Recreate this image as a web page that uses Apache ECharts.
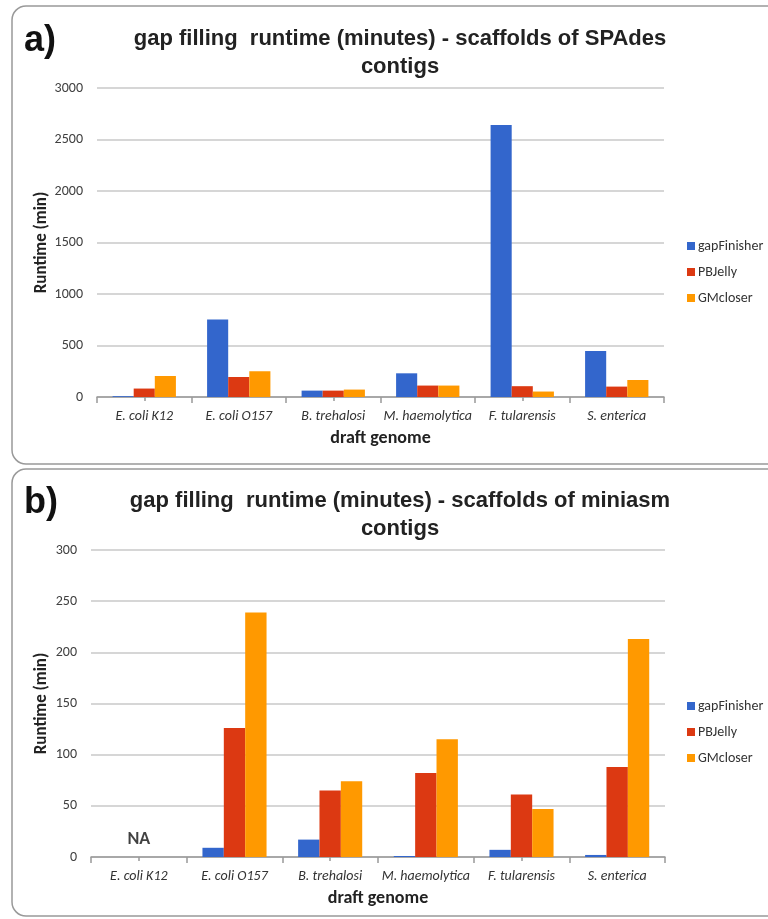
<!DOCTYPE html>
<html>
<head>
<meta charset="utf-8">
<script src="https://cdn.jsdelivr.net/npm/echarts@6/dist/echarts.min.js"></script>
<style>
  html, body { margin: 0; padding: 0; background: #fff; }
  #chart { width: 768px; height: 919px; }
</style>
</head>
<body>
<div id="chart"></div>
<script>
// categories (draft genomes)
const genomes = ['E. coli K12', 'E. coli O157', 'B. trehalosi', 'M. haemolytica', 'F. tularensis', 'S. enterica'];
const tools = ['gapFinisher', 'PBJelly', 'GMcloser'];
const colors = ['#3366CC', '#DC3912', '#FF9900'];

// a) SPAdes contigs, runtime in minutes
const spadesGapFinisher = [8, 752, 62, 230, 2640, 447];
const spadesPBJelly = [82, 194, 62, 111, 105, 101];
const spadesGMcloser = [204, 250, 72, 111, 53, 165];

// b) miniasm contigs, runtime in minutes (K12 not available)
const miniasmGapFinisher = [null, 9, 17, 1, 7, 2];
const miniasmPBJelly = [null, 126, 65, 82, 61, 88];
const miniasmGMcloser = [null, 239, 74, 115, 47, 213];
const naGenomes = ['E. coli K12'];

const yTicksA = { min: 0, max: 3000, interval: 500 };
const yTicksB = { min: 0, max: 300, interval: 50 };

const bodyFont = "Carlito, 'Open Sans', sans-serif";
const titleFont = "'Liberation Sans Narrow', 'Arial Narrow', 'Liberation Sans', sans-serif";

const chart = echarts.init(document.getElementById('chart'));

function catAxis(gridIndex) {
  return {
    type: 'category',
    gridIndex: gridIndex,
    data: genomes,
    axisLine: { lineStyle: { color: '#999', width: 1.5 } },
    axisTick: { show: true, length: 6, lineStyle: { color: '#999', width: 1.5 } },
    axisLabel: { interval: 0, fontFamily: bodyFont, fontStyle: 'italic', fontSize: 14, color: '#333', margin: 12 },
    name: 'draft genome',
    nameLocation: 'middle',
    nameGap: 32,
    nameTextStyle: { fontFamily: bodyFont, fontWeight: 'bold', fontSize: 18, color: '#222' }
  };
}

// second axis only for the short ticks under each group centre
function centerTickAxis(gridIndex) {
  return {
    type: 'category',
    gridIndex: gridIndex,
    data: genomes,
    position: 'bottom',
    axisLine: { show: false },
    axisTick: { show: true, alignWithLabel: true, length: 4, lineStyle: { color: '#999', width: 1.5 } },
    axisLabel: { show: false }
  };
}

function valAxis(gridIndex, ticks, gap) {
  return {
    type: 'value',
    gridIndex: gridIndex,
    min: ticks.min,
    max: ticks.max,
    interval: ticks.interval,
    axisLine: { show: false },
    axisTick: { show: false },
    splitLine: { lineStyle: { color: '#c8c8c8', width: 1.5 } },
    axisLabel: { fontFamily: bodyFont, fontSize: 14, color: '#404040', margin: 14, formatter: v => String(v) },
    name: 'Runtime (min)',
    nameLocation: 'middle',
    nameGap: gap,
    nameMoveOverlap: false,
    nameTextStyle: { fontFamily: bodyFont, fontWeight: 'bold', fontSize: 17, color: '#222' }
  };
}

function barSeries(name, data, color, xi, yi) {
  return {
    name: name,
    type: 'bar',
    xAxisIndex: xi,
    yAxisIndex: yi,
    data: data,
    barGap: '0%',
    barCategoryGap: '33%',
    itemStyle: { color: color },
    emphasis: { disabled: true }
  };
}

function legendAt(top) {
  return {
    data: tools,
    orient: 'vertical',
    left: 682,
    top: top,
    itemWidth: 8,
    itemHeight: 8,
    itemGap: 12,
    icon: 'rect',
    textStyle: { fontFamily: bodyFont, fontSize: 14, color: '#333', lineHeight: 14, padding: [0, 0, 0, -2] }
  };
}

const option = {
  animation: false,
  title: [
    {
      text: 'gap filling  runtime (minutes) - scaffolds of SPAdes\ncontigs',
      left: 395, top: 20, textAlign: 'center',
      textStyle: { fontFamily: titleFont, fontWeight: 'bold', fontSize: 22, lineHeight: 28, color: '#222' }
    },
    {
      text: 'a)', left: 19, top: 18,
      textStyle: { fontFamily: 'Liberation Sans', fontWeight: 'bold', fontSize: 36, color: '#111' }
    },
    {
      text: 'gap filling  runtime (minutes) - scaffolds of miniasm\ncontigs',
      left: 395, top: 482, textAlign: 'center',
      textStyle: { fontFamily: titleFont, fontWeight: 'bold', fontSize: 22, lineHeight: 28, color: '#222' }
    },
    {
      text: 'b)', left: 19, top: 480,
      textStyle: { fontFamily: 'Liberation Sans', fontWeight: 'bold', fontSize: 36, color: '#111' }
    }
  ],
  legend: [legendAt(234), legendAt(694)],
  grid: [
    { left: 97, right: 104, top: 88, height: 309 },
    { left: 91, right: 103, top: 550, height: 307 }
  ],
  xAxis: [catAxis(0), centerTickAxis(0), catAxis(1), centerTickAxis(1)],
  yAxis: [valAxis(0, yTicksA, 47), valAxis(1, yTicksB, 41)],
  series: [
    barSeries(tools[0], spadesGapFinisher, colors[0], 0, 0),
    barSeries(tools[1], spadesPBJelly, colors[1], 0, 0),
    barSeries(tools[2], spadesGMcloser, colors[2], 0, 0),
    barSeries(tools[0], miniasmGapFinisher, colors[0], 2, 1),
    barSeries(tools[1], miniasmPBJelly, colors[1], 2, 1),
    barSeries(tools[2], miniasmGMcloser, colors[2], 2, 1),
    {
      name: 'NA',
      type: 'scatter',
      xAxisIndex: 2,
      yAxisIndex: 1,
      symbolSize: 0,
      data: naGenomes.map(g => [g, 0]),
      label: {
        show: true, formatter: 'NA', position: 'top', distance: 9,
        fontFamily: bodyFont, fontWeight: 'bold', fontSize: 18, color: '#111'
      }
    }
  ],
  graphic: [
    {
      type: 'rect', silent: true, z: -1,
      shape: { x: 12, y: 6, width: 780, height: 458, r: 14 },
      style: { fill: 'none', stroke: '#999', lineWidth: 1.5 }
    },
    {
      type: 'rect', silent: true, z: -1,
      shape: { x: 12, y: 469, width: 780, height: 447, r: 14 },
      style: { fill: 'none', stroke: '#999', lineWidth: 1.5 }
    }
  ]
};

chart.setOption(option);
</script>
</body>
</html>
